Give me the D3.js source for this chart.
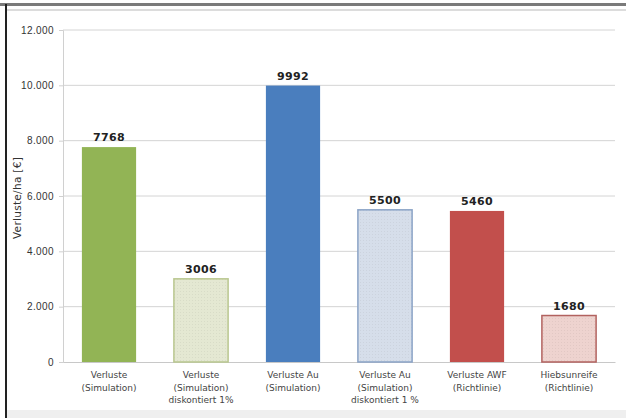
<!DOCTYPE html>
<html>
<head>
<meta charset="utf-8">
<script src="https://cdn.jsdelivr.net/npm/d3@7/dist/d3.min.js"></script>
<style>
  html, body { margin: 0; padding: 0; background: #fff; }
  svg { display: block; font-family: "Liberation Sans", Arial, sans-serif; }
</style>
</head>
<body>
<svg id="chart" width="626" height="418"></svg>
<script>
// Losses per hectare, simulated vs. guideline
const categories = [
  ["Verluste", "(Simulation)"],
  ["Verluste", "(Simulation)", "diskontiert 1%"],
  ["Verluste Au", "(Simulation)"],
  ["Verluste Au", "(Simulation)", "diskontiert 1 %"],
  ["Verluste AWF", "(Richtlinie)"],
  ["Hiebsunreife", "(Richtlinie)"]
];
const values = [7768, 3006, 9992, 5500, 5460, 1680];
const yTicks = [0, 2000, 4000, 6000, 8000, 10000, 12000];
const yTickLabels = ["0", "2.000", "4.000", "6.000", "8.000", "10.000", "12.000"];
const fills = ["#92b455", "#e4e8d2", "#4a7ebe", "#d6deea", "#c24f4c", "#eed3cf"];
const strokes = ["#92b455", "#b9c78f", "#4a7ebe", "#8aa3c6", "#c24f4c", "#b2625f"];
const patterned = [false, true, false, true, false, true];

const svg = d3.select("#chart");

// frame
svg.append("rect").attr("x", 0).attr("y", 0).attr("width", 626).attr("height", 418).attr("fill", "#fff");
svg.append("rect").attr("x", 0).attr("y", 3).attr("width", 626).attr("height", 3).attr("fill", "#7a7a7a");
svg.append("rect").attr("x", 7).attr("y", 9).attr("width", 619).attr("height", 2).attr("fill", "#dcdcdc");
svg.append("rect").attr("x", 5).attr("y", 4).attr("width", 2).attr("height", 414).attr("fill", "#222");
svg.append("rect").attr("x", 7).attr("y", 410).attr("width", 619).attr("height", 8).attr("fill", "#efefef");

const margin = { left: 63, right: 615, top: 30, bottom: 362 };

const x = d3.scaleBand()
  .domain(d3.range(categories.length))
  .range([margin.left, margin.right])
  .paddingInner(0.4)
  .paddingOuter(0.2);

const y = d3.scaleLinear().domain([0, 12000]).range([margin.bottom, margin.top]);

// dotted pattern for discounted / guideline bars
const defs = svg.append("defs");
fills.forEach((f, i) => {
  if (!patterned[i]) return;
  const p = defs.append("pattern")
    .attr("id", "pat" + i)
    .attr("width", 3).attr("height", 3)
    .attr("patternUnits", "userSpaceOnUse");
  p.append("rect").attr("width", 3).attr("height", 3).attr("fill", f);
  p.append("rect").attr("x", 0).attr("y", 0).attr("width", 1).attr("height", 1)
    .attr("fill", d3.color(f).darker(0.25)).attr("opacity", 0.6);
});

// gridlines
svg.append("g")
  .selectAll("line")
  .data(yTicks.filter(d => d > 0))
  .join("line")
  .attr("x1", margin.left).attr("x2", margin.right)
  .attr("y1", d => y(d)).attr("y2", d => y(d))
  .attr("stroke", "#d4d4d4").attr("stroke-width", 1);

// y axis
const yAxis = d3.axisLeft(y)
  .tickValues(yTicks)
  .tickFormat((d, i) => yTickLabels[i])
  .tickSize(4)
  .tickPadding(5);
const gy = svg.append("g").attr("transform", `translate(${margin.left},0)`).call(yAxis);
gy.select(".domain").attr("stroke", "#d0d0d0");
gy.selectAll(".tick line").attr("stroke", "#d0d0d0");
gy.selectAll(".tick text").attr("fill", "#333").attr("font-size", 10)
  .attr("letter-spacing", 0.4)
  .attr("font-family", "Liberation Sans, Arial, sans-serif");

// x axis baseline
const xAxis = d3.axisBottom(x).tickSize(0).tickFormat("");
const gx = svg.append("g").attr("transform", `translate(0,${margin.bottom})`).call(xAxis);
gx.select(".domain").attr("stroke", "#c8c8c8");

// bars
svg.append("g")
  .selectAll("rect")
  .data(values)
  .join("rect")
  .attr("x", (d, i) => x(i) + 0.5)
  .attr("width", x.bandwidth() - 1)
  .attr("y", d => y(d))
  .attr("height", d => y(0) - y(d))
  .attr("fill", (d, i) => patterned[i] ? `url(#pat${i})` : fills[i])
  .attr("stroke", (d, i) => strokes[i])
  .attr("stroke-width", (d, i) => patterned[i] ? 1.5 : 0);

// value labels
svg.append("g")
  .selectAll("text")
  .data(values)
  .join("text")
  .attr("x", (d, i) => x(i) + x.bandwidth() / 2)
  .attr("y", d => y(d) - 6)
  .attr("text-anchor", "middle")
  .attr("font-family", "DejaVu Sans, sans-serif")
  .attr("font-size", 11)
  .attr("letter-spacing", 0.3)
  .attr("font-weight", "bold")
  .attr("fill", "#222")
  .text(d => d);

// category labels
const cat = svg.append("g")
  .selectAll("text")
  .data(categories)
  .join("text")
  .attr("x", (d, i) => x(i) + x.bandwidth() / 2)
  .attr("y", margin.bottom + 16)
  .attr("text-anchor", "middle")
  .attr("font-family", "DejaVu Sans, sans-serif")
  .attr("font-size", 9)
  .attr("fill", "#444");
cat.selectAll("tspan")
  .data(d => d)
  .join("tspan")
  .attr("x", function () { return d3.select(this.parentNode).attr("x"); })
  .attr("dy", (d, i) => i === 0 ? 0 : 12.5)
  .text(d => d);

// y axis title
svg.append("text")
  .attr("transform", `translate(21,${(margin.top + margin.bottom) / 2 + 2}) rotate(-90)`)
  .attr("text-anchor", "middle")
  .attr("font-family", "DejaVu Sans, sans-serif")
  .attr("font-size", 10.5)
  .attr("letter-spacing", 0.3)
  .attr("fill", "#333")
  .text("Verluste/ha [€]");
</script>
</body>
</html>
